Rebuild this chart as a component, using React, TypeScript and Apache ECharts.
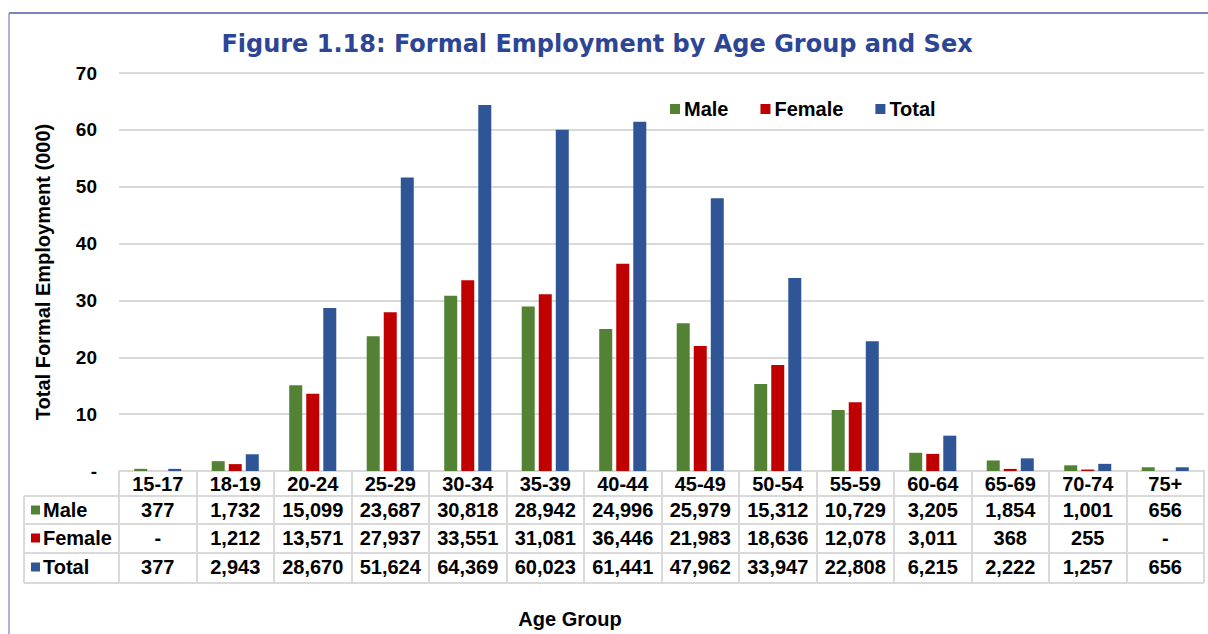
import React, { useEffect, useRef } from 'react';
import * as echarts from 'echarts';

const categories = ['15-17', '18-19', '20-24', '25-29', '30-34', '35-39', '40-44', '45-49', '50-54', '55-59', '60-64', '65-69', '70-74', '75+'];
const maleValues = [377, 1732, 15099, 23687, 30818, 28942, 24996, 25979, 15312, 10729, 3205, 1854, 1001, 656];
const femaleValues = [0, 1212, 13571, 27937, 33551, 31081, 36446, 21983, 18636, 12078, 3011, 368, 255, 0];
const totalValues = [377, 2943, 28670, 51624, 64369, 60023, 61441, 47962, 33947, 22808, 6215, 2222, 1257, 656];
const seriesNames = ['Male', 'Female', 'Total'];
const seriesColors = ['#548235', '#C00000', '#2F5597'];

const FONT = '"Liberation Sans", Arial, sans-serif';
const GRID_LEFT = 119;
const GRID_RIGHT = 4;
const GRID_TOP = 73;
const AXIS_Y = 471;
const ROW_LINES = [496, 524, 553, 583];
const ROW_CENTERS = [510, 538, 567];
const LINE_COLOR = '#d9d9d9';

export default function App() {
  const ref = useRef<HTMLDivElement>(null);
  useEffect(() => {
    const chart = echarts.init(ref.current!, null, { renderer: 'svg' });
    const rows = [maleValues, femaleValues, totalValues];
    const option: any = {
      animation: false,
      backgroundColor: '#ffffff',
      title: {
        text: 'Figure 1.18: Formal Employment by Age Group and Sex',
        left: 592,
        top: 27,
        textAlign: 'center',
        textStyle: { fontFamily: '"DejaVu Sans", sans-serif', fontWeight: 'bold', fontSize: 24, color: '#2d4595' },
      },
      legend: {
        left: 665,
        top: 94,
        itemWidth: 10,
        itemHeight: 10,
        itemGap: 32,
        icon: 'rect',
        textStyle: { fontFamily: FONT, fontWeight: 'bold', fontSize: 20, color: '#000', padding: [0, 0, 0, -1] },
        data: seriesNames,
      },
      grid: { left: GRID_LEFT, right: GRID_RIGHT, top: GRID_TOP, bottom: 634 - AXIS_Y, containLabel: false },
      xAxis: {
        type: 'category',
        data: categories,
        axisLine: { show: true, lineStyle: { color: LINE_COLOR, width: 2 } },
        axisTick: { show: true, length: ROW_LINES[3] - AXIS_Y, interval: 0, lineStyle: { color: LINE_COLOR, width: 2 } },
        axisLabel: { interval: 0, margin: 3, fontFamily: FONT, fontWeight: 'bold', fontSize: 20, color: '#000' },
      },
      yAxis: {
        type: 'value',
        min: 0,
        max: 70,
        interval: 10,
        name: 'Total Formal Employment (000)',
        nameLocation: 'middle',
        nameGap: 66,
        nameTextStyle: { fontFamily: FONT, fontWeight: 'bold', fontSize: 20, color: '#000' },
        axisLine: { show: false },
        axisTick: { show: false },
        axisLabel: {
          margin: 22,
          fontFamily: FONT,
          fontWeight: 'bold',
          fontSize: 19,
          color: '#000',
          formatter: (v: number) => (v === 0 ? '-' : String(v)),
        },
        splitLine: { lineStyle: { color: LINE_COLOR, width: 2 } },
      },
      series: rows.map((r, j) => ({
        name: seriesNames[j],
        type: 'bar',
        data: r.map((v) => v / 1000),
        barWidth: 13,
        barGap: '31%',
        itemStyle: { color: seriesColors[j] },
      })),
    };
    chart.setOption(option);

    const fmt = (v: number) => (v === 0 ? '-' : v.toLocaleString('en-US'));
    const textStyle = (text: string, x: number, y: number, align = 'center') => ({
      type: 'text',
      x,
      y,
      z: 10,
      style: {
        text,
        fill: '#000',
        font: `bold 20px ${FONT}`,
        align,
        verticalAlign: 'middle',
        textAlign: align,
        textVerticalAlign: 'middle',
      },
    });
    const graphics: any[] = [];
    // outer frame
    graphics.push({ type: 'line', shape: { x1: 9, y1: 13, x2: 1208, y2: 13 }, style: { stroke: '#4a5ea3', lineWidth: 1.5 } });
    graphics.push({ type: 'line', shape: { x1: 9, y1: 13, x2: 9, y2: 634 }, style: { stroke: '#8d9bc9', lineWidth: 1.5 } });
    // table lines
    const tableRight = 1208 - GRID_RIGHT;
    ROW_LINES.forEach((y) => {
      graphics.push({ type: 'line', shape: { x1: 24, y1: y, x2: tableRight, y2: y }, style: { stroke: LINE_COLOR, lineWidth: 2 } });
    });
    graphics.push({ type: 'line', shape: { x1: 24, y1: ROW_LINES[0], x2: 24, y2: ROW_LINES[3] }, style: { stroke: LINE_COLOR, lineWidth: 2 } });
    // row labels with keys
    seriesNames.forEach((n, j) => {
      graphics.push({ type: 'rect', shape: { x: 31, y: ROW_CENTERS[j] - 4.5, width: 9, height: 9 }, style: { fill: seriesColors[j] } });
      graphics.push(textStyle(n, 43, ROW_CENTERS[j], 'left'));
    });
    // values
    categories.forEach((c, i) => {
      const x = chart.convertToPixel({ xAxisIndex: 0 }, i) as number;
      rows.forEach((r, j) => {
        graphics.push(textStyle(fmt(r[i]), x, ROW_CENTERS[j]));
      });
    });
    graphics.push(textStyle('Age Group', 570, 619));
    chart.setOption({ graphic: graphics });
    return () => chart.dispose();
  }, []);
  return <div ref={ref} style={{ position: 'fixed', left: 0, top: 0, width: 1208, height: 634 }} />;
}
